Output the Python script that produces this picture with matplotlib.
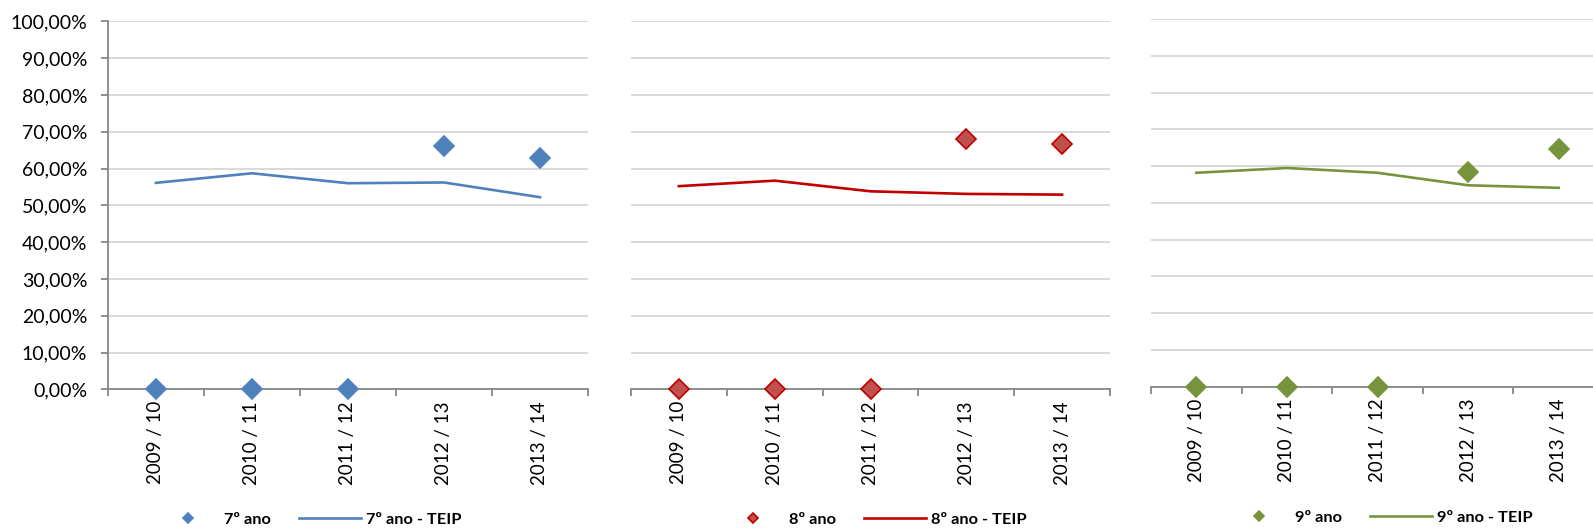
import numpy as np
import matplotlib
matplotlib.use("Agg")
import matplotlib.pyplot as plt
from matplotlib.ticker import FuncFormatter, FixedLocator

plt.rcParams['font.family'] = ['Lato', 'DejaVu Sans']

anos = ["2009 / 10", "2010 / 11", "2011 / 12", "2012 / 13", "2013 / 14"]

ano7 = [0.0, 0.0, 0.0, 66.2, 62.9]
ano7_teip = [56.1, 58.7, 56.0, 56.2, 52.2]
ano8 = [0.0, 0.0, 0.0, 68.1, 66.7]
ano8_teip = [55.2, 56.7, 53.8, 53.1, 52.9]
ano9 = [0.0, 0.0, 0.0, 58.4, 64.7]
ano9_teip = [58.2, 59.5, 58.2, 54.8, 54.1]

W, H = 1593, 531
fig = plt.figure(figsize=(W / 100, H / 100), dpi=100)

grid_c = "#d9d9d9"
axis_c = "#868686"

def pct(v, pos):
    return ("%.2f%%" % (v)).replace(".", ",")

def make_panel(rect, pts, teip, name, mfc, mec, lc, show_y, leg_xy):
    ax = fig.add_axes(rect)
    x = np.arange(len(anos))
    ax.plot(x, teip, color=lc, lw=1.9, zorder=3, label=name + " - TEIP")
    ax.plot(x, pts, ls="none", marker="D", ms=10, mfc=mfc, mec=mec,
            mew=1.2, zorder=4, clip_on=False, label=name)
    ax.set_xlim(-0.5, len(anos) - 0.5)
    ax.set_ylim(0, 100)
    ax.yaxis.set_major_locator(FixedLocator(np.arange(0, 101, 10)))
    ax.yaxis.set_major_formatter(FuncFormatter(pct))
    ax.grid(axis="y", color=grid_c, lw=1.4, zorder=0)
    ax.set_axisbelow(True)
    for s in ["top", "right"]:
        ax.spines[s].set_visible(False)
    ax.spines["bottom"].set_color(axis_c)
    ax.spines["bottom"].set_linewidth(1.3)
    ax.set_xticks(x)
    ax.set_xticklabels(anos, rotation=90, fontsize=13.5)
    ax.set_xticks(np.arange(-0.5, len(anos)), minor=True)
    ax.tick_params(axis="x", which="major", length=0, pad=8.5)
    ax.tick_params(axis="x", which="minor", length=5, width=1.3,
                   color=axis_c, direction="out")
    if show_y:
        ax.spines["left"].set_color(axis_c)
        ax.spines["left"].set_linewidth(1.3)
        ax.tick_params(axis="y", length=5, width=1.3, color=axis_c,
                       labelsize=14, pad=10)
    else:
        ax.spines["left"].set_visible(False)
        ax.tick_params(axis="y", length=0, labelleft=False)
    h, l = ax.get_legend_handles_labels()
    ax.legend([h[1], h[0]], [l[1], l[0]], loc="center",
              bbox_to_anchor=leg_xy, bbox_transform=fig.transFigure,
              ncol=2, frameon=False, handlelength=3.8,
              handletextpad=0.3, columnspacing=1.7, markerscale=0.5,
              prop={"weight": "bold", "size": 11.8})
    return ax

ax1 = make_panel([108 / W, 1 - 389.3 / H, 480 / W, 368 / H],
                 ano7, ano7_teip, "7º ano", "#4f81bd", "#4f81bd", "#4f81bd",
                 True, (0.194, 0.021))
ax2 = make_panel([631 / W, 1 - 389.3 / H, 479 / W, 368 / H],
                 ano8, ano8_teip, "8º ano", "#c0504d", "#c00000", "#c00000",
                 False, (0.549, 0.021))
ax3 = make_panel([1151 / W, 1 - 386.5 / H, 453 / W, 367.2 / H],
                 ano9, ano9_teip, "9º ano", "#77933c", "#77933c", "#77933c",
                 False, (0.8665, 0.025))

fig.savefig("out.png", dpi=100)
